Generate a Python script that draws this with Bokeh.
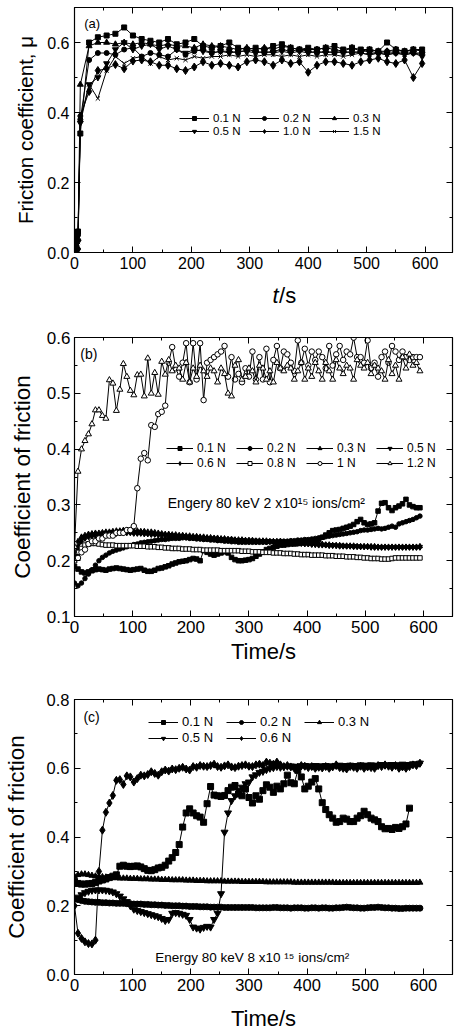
from bokeh.plotting import figure
from bokeh.models import (Range1d, LinearAxis, Legend, LegendItem, Label, SingleIntervalTicker,
                          NumeralTickFormatter)
from bokeh.layouts import column
from bokeh.embed import file_html
from bokeh.resources import INLINE

FONT = "Liberation Sans"

# ---------------- Panel (a) data ----------------
t_a = [0, 3, 6, 10, 25, 40, 55, 70, 85, 100, 115, 130, 145, 160, 175, 190, 205, 220, 235, 250,
       265, 280, 295, 310, 325, 340, 355, 370, 385, 400, 415, 430, 445, 460, 475, 490, 505, 520,
       535, 550, 565, 580, 595]
a_01 = [0.05, 0.01, 0.06, 0.34, 0.60, 0.615, 0.62, 0.625, 0.643, 0.62,
        0.61, 0.605, 0.60, 0.61, 0.595, 0.60, 0.61, 0.59, 0.585, 0.59,
        0.60, 0.585, 0.58, 0.585, 0.58, 0.59, 0.595, 0.585, 0.58, 0.585,
        0.58, 0.585, 0.59, 0.58, 0.585, 0.58, 0.58, 0.575, 0.60, 0.58,
        0.575, 0.58, 0.58]
a_02 = [0.04, 0.01, 0.05, 0.38, 0.55, 0.57, 0.57, 0.565, 0.58, 0.585,
        0.56, 0.57, 0.565, 0.56, 0.58, 0.565, 0.575, 0.58, 0.57, 0.575,
        0.575, 0.57, 0.58, 0.575, 0.57, 0.575, 0.58, 0.575, 0.58, 0.575,
        0.57, 0.575, 0.57, 0.575, 0.57, 0.575, 0.575, 0.57, 0.575, 0.57,
        0.575, 0.57, 0.57]
a_03 = [0.03, 0.01, 0.04, 0.48, 0.59, 0.60, 0.60, 0.595, 0.60, 0.595,
        0.60, 0.595, 0.59, 0.595, 0.59, 0.59, 0.585, 0.595, 0.59, 0.59,
        0.585, 0.58, 0.585, 0.58, 0.585, 0.58, 0.59, 0.585, 0.58, 0.58,
        0.58, 0.585, 0.58, 0.575, 0.585, 0.575, 0.58, 0.575, 0.575, 0.58,
        0.575, 0.58, 0.575]
a_05 = [0.02, 0.01, 0.03, 0.37, 0.48, 0.50, 0.54, 0.58, 0.60, 0.58,
        0.59, 0.595, 0.58, 0.59, 0.58, 0.57, 0.58, 0.575, 0.57, 0.575,
        0.57, 0.575, 0.575, 0.57, 0.575, 0.57, 0.575, 0.57, 0.575, 0.57,
        0.575, 0.57, 0.575, 0.57, 0.575, 0.57, 0.565, 0.57, 0.565, 0.57,
        0.565, 0.57, 0.56]
a_10 = [0.01, 0.02, 0.01, 0.39, 0.46, 0.52, 0.525, 0.537, 0.525, 0.547,
        0.55, 0.545, 0.535, 0.535, 0.525, 0.52, 0.53, 0.545, 0.535, 0.54,
        0.535, 0.53, 0.545, 0.55, 0.545, 0.535, 0.55, 0.54, 0.545, 0.515,
        0.535, 0.545, 0.545, 0.54, 0.535, 0.545, 0.55, 0.555, 0.545, 0.54,
        0.55, 0.50, 0.54]
a_15 = [0.02, 0.01, 0.03, 0.38, 0.48, 0.44, 0.52, 0.56, 0.54, 0.555,
        0.56, 0.54, 0.56, 0.55, 0.555, 0.55, 0.56, 0.555, 0.56, 0.56,
        0.565, 0.56, 0.565, 0.56, 0.565, 0.565, 0.56, 0.565, 0.56, 0.565,
        0.56, 0.565, 0.565, 0.56, 0.565, 0.57, 0.565, 0.57, 0.565, 0.57,
        0.565, 0.57, 0.565]
labels_a = ["0.1 N", "0.2 N", "0.3 N", "0.5 N", "1.0 N", "1.5 N"]

# ---------------- Panel (b) data ----------------
t_b = list(range(0, 600, 6))
b_01 = [0.190, 0.185, 0.180, 0.178, 0.180, 0.182, 0.184, 0.185, 0.184, 0.183,
        0.185, 0.186, 0.187, 0.186, 0.185, 0.184, 0.183, 0.184, 0.185, 0.186,
        0.183, 0.181, 0.181, 0.183, 0.186, 0.187, 0.189, 0.191, 0.194, 0.196,
        0.198, 0.199, 0.200, 0.202, 0.204, 0.203, 0.200, 0.218, 0.215, 0.212,
        0.210, 0.212, 0.214, 0.216, 0.214, 0.206, 0.202, 0.200, 0.200, 0.201,
        0.202, 0.204, 0.208, 0.212, 0.216, 0.220, 0.222, 0.224, 0.226, 0.228,
        0.228, 0.229, 0.230, 0.230, 0.231, 0.232, 0.232, 0.233, 0.234, 0.236,
        0.238, 0.242, 0.246, 0.250, 0.254, 0.255, 0.256, 0.258, 0.260, 0.262,
        0.265, 0.270, 0.274, 0.268, 0.265, 0.266, 0.268, 0.289, 0.303, 0.304,
        0.295, 0.290, 0.295, 0.298, 0.302, 0.310, 0.300, 0.297, 0.295, 0.295]
b_02 = [0.160, 0.155, 0.160, 0.168, 0.176, 0.184, 0.192, 0.200, 0.206, 0.210,
        0.214, 0.217, 0.219, 0.221, 0.223, 0.225, 0.227, 0.229, 0.230, 0.232,
        0.233, 0.234, 0.235, 0.236, 0.237, 0.238, 0.238, 0.239, 0.240, 0.240,
        0.240, 0.241, 0.241, 0.240, 0.240, 0.239, 0.239, 0.238, 0.238, 0.237,
        0.237, 0.236, 0.236, 0.235, 0.235, 0.234, 0.234, 0.233, 0.233, 0.233,
        0.233, 0.233, 0.233, 0.233, 0.233, 0.233, 0.234, 0.234, 0.234, 0.235,
        0.235, 0.235, 0.236, 0.236, 0.237, 0.237, 0.238, 0.238, 0.239, 0.240,
        0.241, 0.242, 0.243, 0.244, 0.245, 0.246, 0.247, 0.248, 0.249, 0.250,
        0.251, 0.252, 0.254, 0.255, 0.255, 0.256, 0.257, 0.258, 0.257, 0.258,
        0.260, 0.262, 0.260, 0.266, 0.268, 0.270, 0.272, 0.274, 0.277, 0.280]
b_03 = [0.200, 0.235, 0.243, 0.246, 0.248, 0.249, 0.250, 0.250, 0.251, 0.252,
        0.252, 0.253, 0.254, 0.254, 0.255, 0.255, 0.255, 0.254, 0.254, 0.253,
        0.253, 0.252, 0.252, 0.251, 0.250, 0.249, 0.248, 0.248, 0.247, 0.247,
        0.246, 0.246, 0.245, 0.245, 0.244, 0.244, 0.243, 0.243, 0.242, 0.242,
        0.241, 0.241, 0.240, 0.240, 0.239, 0.239, 0.238, 0.238, 0.238, 0.237,
        0.237, 0.237, 0.236, 0.236, 0.236, 0.236, 0.235, 0.235, 0.235, 0.235,
        0.234, 0.234, 0.234, 0.233, 0.233, 0.233, 0.232, 0.232, 0.231, 0.231,
        0.230, 0.230, 0.229, 0.229, 0.228, 0.228, 0.228, 0.227, 0.227, 0.227,
        0.227, 0.226, 0.226, 0.226, 0.226, 0.226, 0.226, 0.225, 0.225, 0.225,
        0.225, 0.225, 0.225, 0.225, 0.225, 0.225, 0.225, 0.225, 0.225, 0.226]
b_05 = [0.210, 0.228, 0.238, 0.242, 0.245, 0.246, 0.247, 0.248, 0.249, 0.250,
        0.250, 0.251, 0.251, 0.252, 0.252, 0.252, 0.252, 0.251, 0.251, 0.250,
        0.250, 0.249, 0.249, 0.248, 0.248, 0.247, 0.246, 0.246, 0.245, 0.245,
        0.244, 0.244, 0.243, 0.243, 0.242, 0.242, 0.241, 0.241, 0.240, 0.240,
        0.240, 0.239, 0.239, 0.238, 0.238, 0.238, 0.237, 0.237, 0.237, 0.236,
        0.236, 0.236, 0.236, 0.235, 0.235, 0.235, 0.235, 0.234, 0.234, 0.234,
        0.233, 0.233, 0.233, 0.232, 0.232, 0.231, 0.231, 0.230, 0.230, 0.229,
        0.229, 0.229, 0.228, 0.228, 0.228, 0.227, 0.227, 0.227, 0.226, 0.226,
        0.226, 0.226, 0.225, 0.225, 0.225, 0.225, 0.224, 0.224, 0.224, 0.224,
        0.224, 0.224, 0.224, 0.224, 0.224, 0.224, 0.224, 0.224, 0.224, 0.225]
b_06 = [0.205, 0.222, 0.235, 0.240, 0.243, 0.244, 0.245, 0.246, 0.247, 0.248,
        0.248, 0.249, 0.249, 0.250, 0.250, 0.250, 0.250, 0.249, 0.249, 0.249,
        0.248, 0.248, 0.247, 0.247, 0.246, 0.246, 0.245, 0.245, 0.244, 0.244,
        0.243, 0.243, 0.242, 0.242, 0.241, 0.241, 0.240, 0.240, 0.240, 0.239,
        0.239, 0.238, 0.238, 0.238, 0.237, 0.237, 0.237, 0.236, 0.236, 0.236,
        0.236, 0.235, 0.235, 0.235, 0.235, 0.234, 0.234, 0.234, 0.234, 0.234,
        0.233, 0.233, 0.232, 0.232, 0.231, 0.231, 0.230, 0.230, 0.229, 0.229,
        0.228, 0.228, 0.228, 0.227, 0.227, 0.227, 0.226, 0.226, 0.226, 0.226,
        0.225, 0.225, 0.225, 0.225, 0.225, 0.224, 0.224, 0.224, 0.224, 0.224,
        0.224, 0.224, 0.224, 0.224, 0.224, 0.224, 0.224, 0.224, 0.224, 0.224]
b_08 = [0.200, 0.215, 0.222, 0.228, 0.230, 0.231, 0.231, 0.230, 0.229, 0.228,
        0.228, 0.228, 0.227, 0.227, 0.227, 0.227, 0.227, 0.227, 0.226, 0.226,
        0.226, 0.225, 0.225, 0.225, 0.224, 0.224, 0.223, 0.223, 0.222, 0.222,
        0.222, 0.221, 0.221, 0.221, 0.220, 0.220, 0.220, 0.219, 0.219, 0.219,
        0.219, 0.219, 0.218, 0.218, 0.218, 0.218, 0.218, 0.218, 0.217, 0.217,
        0.217, 0.216, 0.216, 0.216, 0.215, 0.215, 0.215, 0.214, 0.214, 0.214,
        0.213, 0.213, 0.213, 0.212, 0.212, 0.211, 0.211, 0.211, 0.210, 0.210,
        0.210, 0.210, 0.209, 0.209, 0.209, 0.208, 0.208, 0.208, 0.207, 0.207,
        0.207, 0.206, 0.206, 0.205, 0.205, 0.204, 0.204, 0.204, 0.203, 0.203,
        0.203, 0.204, 0.205, 0.205, 0.205, 0.205, 0.205, 0.205, 0.205, 0.205]
b_1 = [0.230, 0.205, 0.215, 0.220, 0.230, 0.235, 0.235, 0.240, 0.240, 0.245,
       0.245, 0.245, 0.250, 0.250, 0.250, 0.255, 0.255, 0.262, 0.330, 0.383,
       0.393, 0.380, 0.443, 0.440, 0.463, 0.467, 0.478, 0.555, 0.583, 0.545,
       0.530, 0.555, 0.590, 0.520, 0.590, 0.525, 0.590, 0.488, 0.555, 0.560,
       0.565, 0.570, 0.575, 0.585, 0.530, 0.565, 0.525, 0.535, 0.520, 0.545,
       0.530, 0.575, 0.525, 0.565, 0.525, 0.580, 0.520, 0.560, 0.585, 0.545,
       0.575, 0.570, 0.555, 0.540, 0.595, 0.555, 0.580, 0.550, 0.575, 0.560,
       0.575, 0.565, 0.545, 0.585, 0.550, 0.570, 0.585, 0.560, 0.575, 0.570,
       0.600, 0.565, 0.565, 0.555, 0.595, 0.545, 0.555, 0.530, 0.565, 0.575,
       0.555, 0.585, 0.575, 0.560, 0.575, 0.565, 0.560, 0.565, 0.565, 0.565]
b_12 = [0.225, 0.360, 0.400, 0.415, 0.427, 0.445, 0.470, 0.470, 0.460, 0.455,
        0.524, 0.518, 0.469, 0.507, 0.553, 0.530, 0.505, 0.497, 0.533, 0.534,
        0.495, 0.563, 0.500, 0.537, 0.498, 0.557, 0.534, 0.560, 0.540, 0.550,
        0.545, 0.525, 0.555, 0.520, 0.545, 0.530, 0.550, 0.540, 0.530, 0.545,
        0.540, 0.520, 0.545, 0.535, 0.500, 0.495, 0.550, 0.560, 0.525, 0.530,
        0.545, 0.540, 0.520, 0.550, 0.545, 0.525, 0.540, 0.520, 0.555, 0.545,
        0.540, 0.550, 0.545, 0.525, 0.540, 0.555, 0.525, 0.545, 0.530, 0.555,
        0.540, 0.525, 0.555, 0.540, 0.525, 0.560, 0.545, 0.535, 0.550, 0.545,
        0.525, 0.560, 0.550, 0.545, 0.555, 0.535, 0.550, 0.545, 0.540, 0.525,
        0.560, 0.535, 0.550, 0.525, 0.565, 0.545, 0.570, 0.550, 0.555, 0.540]
labels_b = ["0.1 N", "0.2 N", "0.3 N", "0.5 N", "0.6 N", "0.8 N", "1 N", "1.2 N"]

# ---------------- Panel (c) data ----------------
t_c = list(range(0, 600, 6))
c_01 = [0.270, 0.265, 0.263, 0.263, 0.264, 0.265, 0.268, 0.272, 0.275, 0.278,
        0.282, 0.286, 0.290, 0.315, 0.318, 0.315, 0.314, 0.315, 0.316, 0.313,
        0.308, 0.303, 0.302, 0.305, 0.310, 0.312, 0.318, 0.330, 0.340, 0.355,
        0.378, 0.429, 0.470, 0.482, 0.470, 0.462, 0.458, 0.443, 0.497, 0.547,
        0.522, 0.520, 0.518, 0.521, 0.535, 0.545, 0.550, 0.525, 0.520, 0.540,
        0.515, 0.499, 0.520, 0.510, 0.535, 0.552, 0.545, 0.530, 0.548, 0.540,
        0.555, 0.580, 0.558, 0.555, 0.594, 0.575, 0.540, 0.548, 0.560, 0.570,
        0.540, 0.500, 0.480, 0.465, 0.455, 0.443, 0.445, 0.455, 0.452, 0.445,
        0.445, 0.455, 0.462, 0.475, 0.465, 0.455, 0.450, 0.445, 0.430, 0.424,
        0.425, 0.422, 0.428, 0.425, 0.430, 0.438, 0.484]
c_02 = [0.220, 0.218, 0.215, 0.213, 0.212, 0.211, 0.210, 0.210, 0.209, 0.209,
        0.208, 0.208, 0.207, 0.207, 0.207, 0.206, 0.206, 0.205, 0.205, 0.205,
        0.204, 0.204, 0.203, 0.203, 0.202, 0.202, 0.201, 0.201, 0.200, 0.200,
        0.200, 0.199, 0.199, 0.198, 0.198, 0.198, 0.197, 0.197, 0.197, 0.196,
        0.196, 0.196, 0.196, 0.195, 0.195, 0.195, 0.195, 0.195, 0.195, 0.195,
        0.195, 0.195, 0.194, 0.194, 0.194, 0.194, 0.194, 0.195, 0.195, 0.194,
        0.194, 0.194, 0.193, 0.194, 0.194, 0.194, 0.193, 0.193, 0.194, 0.194,
        0.193, 0.194, 0.194, 0.193, 0.193, 0.194, 0.194, 0.195, 0.196, 0.195,
        0.194, 0.194, 0.193, 0.193, 0.194, 0.195, 0.195, 0.196, 0.195, 0.194,
        0.194, 0.193, 0.193, 0.192, 0.192, 0.193, 0.193, 0.193, 0.193, 0.193]
c_03 = [0.285, 0.290, 0.292, 0.292, 0.290, 0.288, 0.286, 0.285, 0.284, 0.283,
        0.282, 0.281, 0.281, 0.280, 0.280, 0.280, 0.279, 0.279, 0.279, 0.278,
        0.278, 0.278, 0.277, 0.277, 0.277, 0.276, 0.276, 0.276, 0.275, 0.275,
        0.275, 0.275, 0.274, 0.274, 0.274, 0.273, 0.273, 0.273, 0.272, 0.272,
        0.272, 0.272, 0.272, 0.271, 0.271, 0.271, 0.271, 0.271, 0.270, 0.270,
        0.270, 0.270, 0.270, 0.270, 0.270, 0.269, 0.269, 0.269, 0.269, 0.269,
        0.269, 0.269, 0.269, 0.268, 0.268, 0.268, 0.268, 0.268, 0.268, 0.268,
        0.268, 0.268, 0.268, 0.268, 0.268, 0.267, 0.267, 0.267, 0.267, 0.267,
        0.267, 0.267, 0.267, 0.267, 0.267, 0.267, 0.267, 0.267, 0.267, 0.267,
        0.267, 0.267, 0.267, 0.267, 0.267, 0.267, 0.267, 0.267, 0.267, 0.268]
c_05 = [0.220, 0.225, 0.232, 0.238, 0.242, 0.245, 0.246, 0.246, 0.246, 0.245,
        0.243, 0.240, 0.235, 0.228, 0.220, 0.212, 0.200, 0.190, 0.186, 0.183,
        0.180, 0.177, 0.174, 0.171, 0.168, 0.163, 0.157, 0.160, 0.178, 0.180,
        0.178, 0.175, 0.172, 0.160, 0.138, 0.135, 0.132, 0.137, 0.140, 0.138,
        0.160, 0.178, 0.235, 0.414, 0.470, 0.506, 0.520, 0.535, 0.545, 0.555,
        0.560, 0.575, 0.581, 0.588, 0.591, 0.596, 0.600, 0.602, 0.605, 0.603,
        0.605, 0.606, 0.607, 0.605, 0.606, 0.607, 0.608, 0.606, 0.607, 0.608,
        0.606, 0.607, 0.608, 0.606, 0.607, 0.608, 0.609, 0.607, 0.608, 0.609,
        0.607, 0.608, 0.610, 0.608, 0.609, 0.610, 0.608, 0.609, 0.611, 0.609,
        0.610, 0.611, 0.609, 0.610, 0.612, 0.610, 0.611, 0.613, 0.612, 0.615]
c_06 = [0.200, 0.120, 0.105, 0.095, 0.090, 0.089, 0.100, 0.300, 0.420, 0.472,
        0.499, 0.521, 0.565, 0.567, 0.553, 0.578, 0.575, 0.560, 0.570, 0.580,
        0.578, 0.582, 0.590, 0.585, 0.580, 0.590, 0.595, 0.592, 0.598, 0.596,
        0.600, 0.603, 0.598, 0.595, 0.605, 0.603, 0.608, 0.606, 0.605, 0.608,
        0.612, 0.605, 0.603, 0.607, 0.610, 0.604, 0.602, 0.606, 0.608, 0.610,
        0.606, 0.605, 0.610, 0.612, 0.608, 0.618, 0.615, 0.612, 0.618, 0.610,
        0.605, 0.608, 0.604, 0.600, 0.603, 0.608, 0.606, 0.602, 0.605, 0.600,
        0.603, 0.601, 0.605, 0.600, 0.604, 0.610, 0.602, 0.600, 0.598, 0.605,
        0.603, 0.600, 0.606, 0.600, 0.604, 0.602, 0.600, 0.608, 0.605, 0.610,
        0.606, 0.603, 0.608, 0.600, 0.604, 0.600, 0.605, 0.610, 0.608, 0.615]
labels_c = ["0.1 N", "0.2 N", "0.3 N", "0.5 N", "0.6 N"]


def style_axis(ax, font_size, with_labels=True):
    ax.axis_line_color = "black"
    ax.axis_line_width = 1.2
    ax.major_tick_in = 6
    ax.major_tick_out = 0
    ax.minor_tick_in = 3
    ax.minor_tick_out = 0
    ax.major_tick_line_color = "black"
    ax.minor_tick_line_color = "black"
    ax.major_label_text_font = FONT
    ax.axis_label_text_font = FONT
    ax.axis_label_text_font_style = "normal"
    ax.axis_label_text_color = "black"
    if with_labels:
        ax.major_label_text_font_size = font_size
        ax.major_label_text_color = "black"
    else:
        ax.major_label_text_font_size = "1px"
        ax.major_label_text_color = None
        ax.major_label_standoff = 0


def make_fig(height, xend, y0, y1, xint, yint, borders, ylabel, ylabel_size,
             xlabel, xlabel_size, tick_size, ystand, xstand, x_lab_stand, y_lab_stand):
    bl, br, bt, bb = borders
    p = figure(width=461, height=height, x_range=Range1d(0, xend), y_range=Range1d(y0, y1),
               output_backend="svg", toolbar_location=None,
               min_border_left=bl, min_border_right=br, min_border_top=bt, min_border_bottom=bb)
    p.xgrid.grid_line_color = None
    p.ygrid.grid_line_color = None
    p.outline_line_color = "black"
    p.background_fill_color = "white"
    p.border_fill_color = "white"
    xt = SingleIntervalTicker(interval=xint, num_minor_ticks=2)
    yt = SingleIntervalTicker(interval=yint, num_minor_ticks=2)
    p.xaxis.ticker = xt
    p.yaxis.ticker = yt
    p.yaxis.formatter = NumeralTickFormatter(format="0.0")
    for ax in p.xaxis:
        style_axis(ax, tick_size)
        if xlabel:
            ax.axis_label = xlabel
            ax.axis_label_text_font_size = xlabel_size
            ax.axis_label_standoff = x_lab_stand
        ax.major_label_standoff = xstand
    for ax in p.yaxis:
        style_axis(ax, tick_size)
        ax.axis_label = ylabel
        ax.axis_label_text_font_size = ylabel_size
        ax.major_label_standoff = ystand
        ax.axis_label_standoff = y_lab_stand
    top = LinearAxis(ticker=xt)
    right = LinearAxis(ticker=yt)
    style_axis(top, "1px", False)
    style_axis(right, "1px", False)
    p.add_layout(top, "above")
    p.add_layout(right, "right")
    return p


def add_series(p, t, y, marker, size, open_marker=False):
    lr = p.line(t, y, line_color="black", line_width=1)
    fill = "white" if open_marker else "black"
    sr = p.scatter(t, y, marker=marker, size=size, line_color="black", fill_color=fill,
                   line_width=1)
    return [lr, sr]


def make_legend(items, loc, ncols, font_size, label_width, glyph_width):
    lg = Legend(items=items, location=loc, orientation="horizontal", ncols=ncols)
    lg.label_text_font = FONT
    lg.label_text_font_size = font_size
    lg.label_text_color = "black"
    lg.glyph_width = glyph_width
    lg.glyph_height = 10
    lg.label_height = 10
    lg.label_width = label_width
    lg.label_standoff = 4
    lg.spacing = 1
    lg.padding = 0
    lg.margin = 0
    lg.border_line_color = None
    lg.background_fill_alpha = 0
    return lg


def text(p, x, y, s, size, style="normal", align="left"):
    p.add_layout(Label(x=x, y=y, text=s, text_font=FONT, text_font_size=size,
                       text_font_style=style, text_color="black",
                       text_baseline="middle", text_align=align))


# ---------------- Figure (a) ----------------
pa = make_fig(280, 647, 0, 0.7, 100, 0.2, (73, 0, 7, 28), "Friction coefficient, \u03bc", "20.5px",
              "", "1px", "16px", 5, 4, 0, 7)
markers_a = [("square", 5, False), ("circle", 5, False), ("triangle", 6, False),
             ("inverted_triangle", 6, False), ("diamond", 8, False), ("x", 6, False)]
series_a = [a_01, a_02, a_03, a_05, a_10, a_15]
items_a = []
for lab, ys, (mk, sz, op) in zip(labels_a, series_a, markers_a):
    items_a.append(LegendItem(label=lab, renderers=add_series(pa, t_a, ys, mk, sz, op)))
pa.add_layout(make_legend(items_a, (105, 115), 3, "11.5px", 35, 30))
text(pa, 16.7, 0.654, "(a)", "13px")

# x-axis title of panel (a): italic t followed by upright /s
pt = figure(width=461, height=40, x_range=Range1d(0, 461), y_range=Range1d(0, 40),
            output_backend="svg", toolbar_location=None, min_border=0)
pt.axis.visible = False
pt.xgrid.grid_line_color = None
pt.ygrid.grid_line_color = None
pt.outline_line_color = None
text(pt, 249, 25, "t", "22px", "italic", "right")
text(pt, 249.5, 25, "/s", "22px")

# ---------------- Figure (b) ----------------
pb = make_fig(348, 650, 0.1, 0.6002, 100, 0.1, (67, 9, 17, 52), "Coefficient of friction", "22.5px",
              "Time/s", "22px", "17px", 4, 4, 3, 9)
markers_b = [("square", 4.5, False), ("circle", 4.5, False), ("triangle", 5, False),
             ("inverted_triangle", 5, False), ("diamond", 6, False), ("square", 4.5, True),
             ("circle", 5.5, True), ("triangle", 6, True)]
series_b = [b_01, b_02, b_03, b_05, b_06, b_08, b_1, b_12]
items_b = []
for lab, ys, (mk, sz, op) in zip(labels_b, series_b, markers_b):
    items_b.append(LegendItem(label=lab, renderers=add_series(pb, t_b, ys, mk, sz, op)))
pb.add_layout(make_legend(items_b, (92, 146), 4, "12px", 38, 27))
text(pb, 10, 0.571, "(b)", "14px")
text(pb, 160.4, 0.304, "Engery 80 keV 2 x10\u00b9\u2075 ions/cm\u00b2", "14px")

# ---------------- Figure (c) ----------------
pc = make_fig(366, 650, 0, 0.8002, 100, 0.2, (73, 9, 31, 60), "Coefficient of friction", "22.5px",
              "Time/s", "22px", "16.5px", 5, 4, 12, 15)
markers_c = [("square", 6, False), ("circle", 6, False), ("triangle", 6, False),
             ("inverted_triangle", 7, False), ("diamond", 8, False)]
series_c = [c_01, c_02, c_03, c_05, c_06]
items_c = []
for lab, ys, (mk, sz, op) in zip(labels_c, series_c, markers_c):
    items_c.append(LegendItem(label=lab, renderers=add_series(pc, t_c[:len(ys)], ys, mk, sz, op)))
pc.add_layout(make_legend(items_c, (74, 229), 3, "13px", 43, 30))
text(pc, 15.4, 0.748, "(c)", "14px")
text(pc, 138.9, 0.049, "Energy 80 keV 8 x10 \u00b9\u2075 ions/cm\u00b2", "13.5px")

layout = column(pa, pt, pb, pc, spacing=0)
open("out.html", "w").write(file_html(layout, INLINE))
